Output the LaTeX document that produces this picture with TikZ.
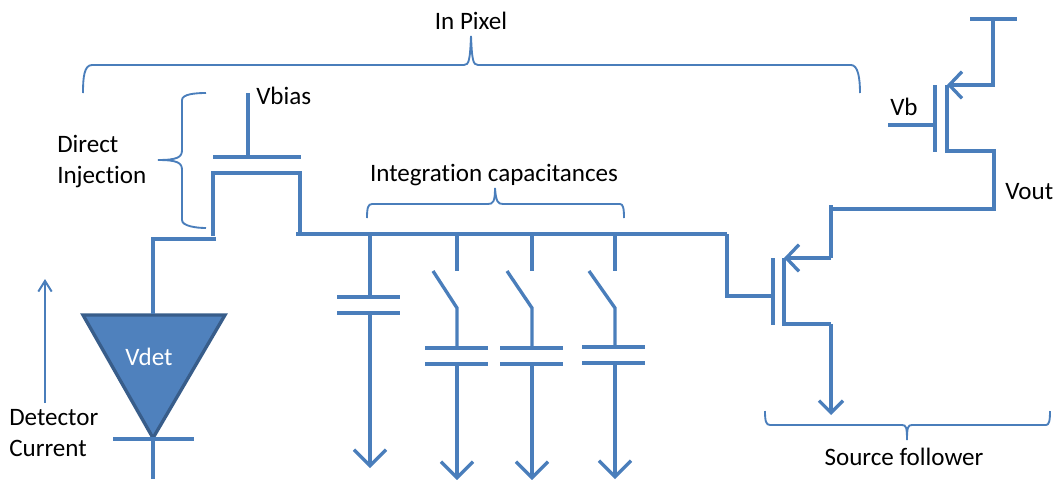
\documentclass[tikz,border=0pt]{standalone}
\usepackage{fontspec}
\setmainfont{Carlito}[Ligatures=NoCommon]
\usetikzlibrary{arrows.meta}
\definecolor{wireblue}{HTML}{4A7EBB}
\definecolor{diodefill}{HTML}{4F81BD}
\definecolor{diodeedge}{HTML}{385D8A}
\tikzset{
	wire/.style={draw=wireblue,line width=2.5pt},
	plate/.style={draw=wireblue,line width=3pt},
	thin wire/.style={draw=wireblue,line width=1.5pt},
	brace/.style={draw=wireblue,line width=1.4pt},
	gnd/.style={wire,-{Straight Barb[length=12pt,width=24pt,line width=2.5pt]}},
	sfgnd/.style={wire,-{Straight Barb[length=9pt,width=18pt,line width=2.5pt]}},
	fet/.style={wire,-{Straight Barb[length=9.5pt,width=20pt,line width=2.5pt]}},
	lbl/.style={inner sep=0pt,font=\fontsize{18.8}{20}\selectfont,text=black}
}

\begin{document}
\begin{tikzpicture}[x=0.75pt,y=-0.75pt]
\useasboundingbox (0,0) rectangle (1056,479);
\foreach \n/\px/\py in{
	bias/248/93,
	biasg/248/157,
	gl/213/157,
	gr/301/157,
	cl/213/173,
	cr/300/173,
	cld/213/236,
	crd/300/234,
	busl/296/234,
	busr/727/234,
	srcr/216/239,
	srcl/153/239,
	dtop/153/314,
	dl/83/315,
	dr/225/315,
	dtip/153/438,
	barl/113/439,
	barr/194/439,
	dout/153/479,
	curb/45/403,
	curt/45/279,
	sfin/727/296,
	sfg/773/296,
	sfgt/773/258,
	sfgb/773/325,
	sfct/784/258,
	sfcb/784/324,
	sfw/831/258,
	sfn/831/205,
	sfc/831/209,
	sfd/831/324,
	sfout/831/415,
	outc/994/209,
	outd/994/151,
	vbl/888/125,
	vbg/935/125,
	vbt/935/85,
	vbb/935/152,
	vct/947/85,
	vcb/947/151,
	vcw/993/85,
	vddw/993/19,
	vddl/970/19,
	vddr/1017/19
}
{
	\coordinate (\n) at (\px,\py);
}
% detector
\draw[line width=2.5pt,draw=diodeedge,fill=diodefill,line join=miter] (dl) -- (dr) -- (dtip) -- cycle;
\node[lbl,text=white] (vdet) at (149,357) {Vdet};
\draw[wire] (srcr) -- (srcl) -- (dtop);
\draw[wire] (barl) -- (barr);
\draw[wire] (dtip) -- (dout);
\draw[thin wire,-{Straight Barb[length=8pt,width=10pt,line width=1.5pt]}] (curb) -- (curt);
% input fet
\draw[wire] (bias) -- (biasg);
\draw[plate] (gl) -- (gr);
\draw[wire] (cld) -- (cl) -- (cr) -- (crd);
\draw[plate] (busl) -- (busr);
% capacitors
\foreach \n/\px/\l/\r/\p/\e in{
	a/370/337/400/297/468
}
{
	\coordinate (t\n) at (\px,234);
	\coordinate (u\n) at (\px,\p);
	\coordinate (v\n) at (\px,\p+16);
	\coordinate (e\n) at (\px,\e);
	\coordinate (pl\n) at (\l,\p);
	\coordinate (pr\n) at (\r,\p);
	\coordinate (ql\n) at (\l,\p+16);
	\coordinate (qr\n) at (\r,\p+16);
	\draw[wire] (t\n) -- (u\n);
	\draw[plate] (pl\n) -- (pr\n);
	\draw[plate] (ql\n) -- (qr\n);
	\draw[gnd] (v\n) -- (e\n);
}
\foreach \n/\px/\l/\r/\p/\a/\e in{
	b/457/425/488/348/433/480,
	c/532/500/563/348/507/480,
	d/615/582/645/347/589/479
}
{
	\coordinate (t\n) at (\px,234);
	\coordinate (o\n) at (\px,271);
	\coordinate (a\n) at (\a,271);
	\coordinate (h\n) at (\px,308);
	\coordinate (u\n) at (\px,\p);
	\coordinate (v\n) at (\px,\p+16);
	\coordinate (e\n) at (\px,\e);
	\coordinate (pl\n) at (\l,\p);
	\coordinate (pr\n) at (\r,\p);
	\coordinate (ql\n) at (\l,\p+16);
	\coordinate (qr\n) at (\r,\p+16);
	\draw[wire] (t\n) -- (o\n);
	\draw[wire] (a\n) -- (h\n) -- (u\n);
	\draw[plate] (pl\n) -- (pr\n);
	\draw[plate] (ql\n) -- (qr\n);
	\draw[gnd] (v\n) -- (e\n);
}
% source follower
\draw[wire] (busr) -- (sfin) -- (sfg);
\draw[plate] (sfgt) -- (sfgb);
\draw[wire] (sfn) -- (sfw);
\draw[fet] (sfw) -- (sfct);
\draw[wire] (sfct) -- (sfcb) -- (sfd);
\draw[sfgnd] (sfd) -- (sfout);
\draw[wire] (sfc) -- (outc) -- (outd) -- (vcb) -- (vct);
\draw[fet] (vddw) |- (vct);
\draw[wire] (vbl) -- (vbg);
\draw[plate] (vbt) -- (vbb);
\draw[wire] (vddl) -- (vddr);
% braces
\draw[brace] (83,93) .. controls (83,78) and (84,65) .. (92,65) -- (464,65) .. controls (469,65) and (470,60) .. (471,36) .. controls (472,60) and (473,65) .. (478,65) -- (851,65) .. controls (858,65) and (860,78) .. (860,93);
\draw[brace] (206,93) .. controls (196,93) and (182,94) .. (182,100) -- (182,150) .. controls (182,157) and (178,160) .. (158,160) .. controls (178,160) and (182,163) .. (182,170) -- (182,220) .. controls (182,226) and (196,228) .. (206,228);
\draw[brace] (367,218) .. controls (367,208) and (368,204) .. (372,204) -- (488,204) .. controls (493,204) and (495,202) .. (495,188) .. controls (496,202) and (498,204) .. (503,204) -- (620,204) .. controls (623,204) and (624,208) .. (624,218);
\draw[brace] (765,411) .. controls (765,421) and (766,425) .. (770,425) -- (902,425) .. controls (906,425) and (907,427) .. (907,440) .. controls (907,427) and (908,425) .. (912,425) -- (1046,425) .. controls (1049,425) and (1050,421) .. (1050,411);
% labels
\node[lbl] (inpixel) at (471,21) {In Pixel};
\node[lbl,anchor=west] (vbiaslbl) at (256,96) {Vbias};
\node[lbl,anchor=west] (direct) at (57,144) {Direct};
\node[lbl,anchor=west] (injection) at (57,177) {Injection};
\node[lbl] (integ) at (494,175) {Integration capacitances};
\node[lbl,anchor=west] (detector) at (9,418) {Detector};
\node[lbl,anchor=west] (current) at (9,448) {Current};
\node[lbl,anchor=west] (vblbl) at (890,107) {Vb};
\node[lbl,anchor=west] (vout) at (1005,192) {Vout};
\node[lbl] (follower) at (904,457) {Source follower};
\end{tikzpicture}
\end{document}
